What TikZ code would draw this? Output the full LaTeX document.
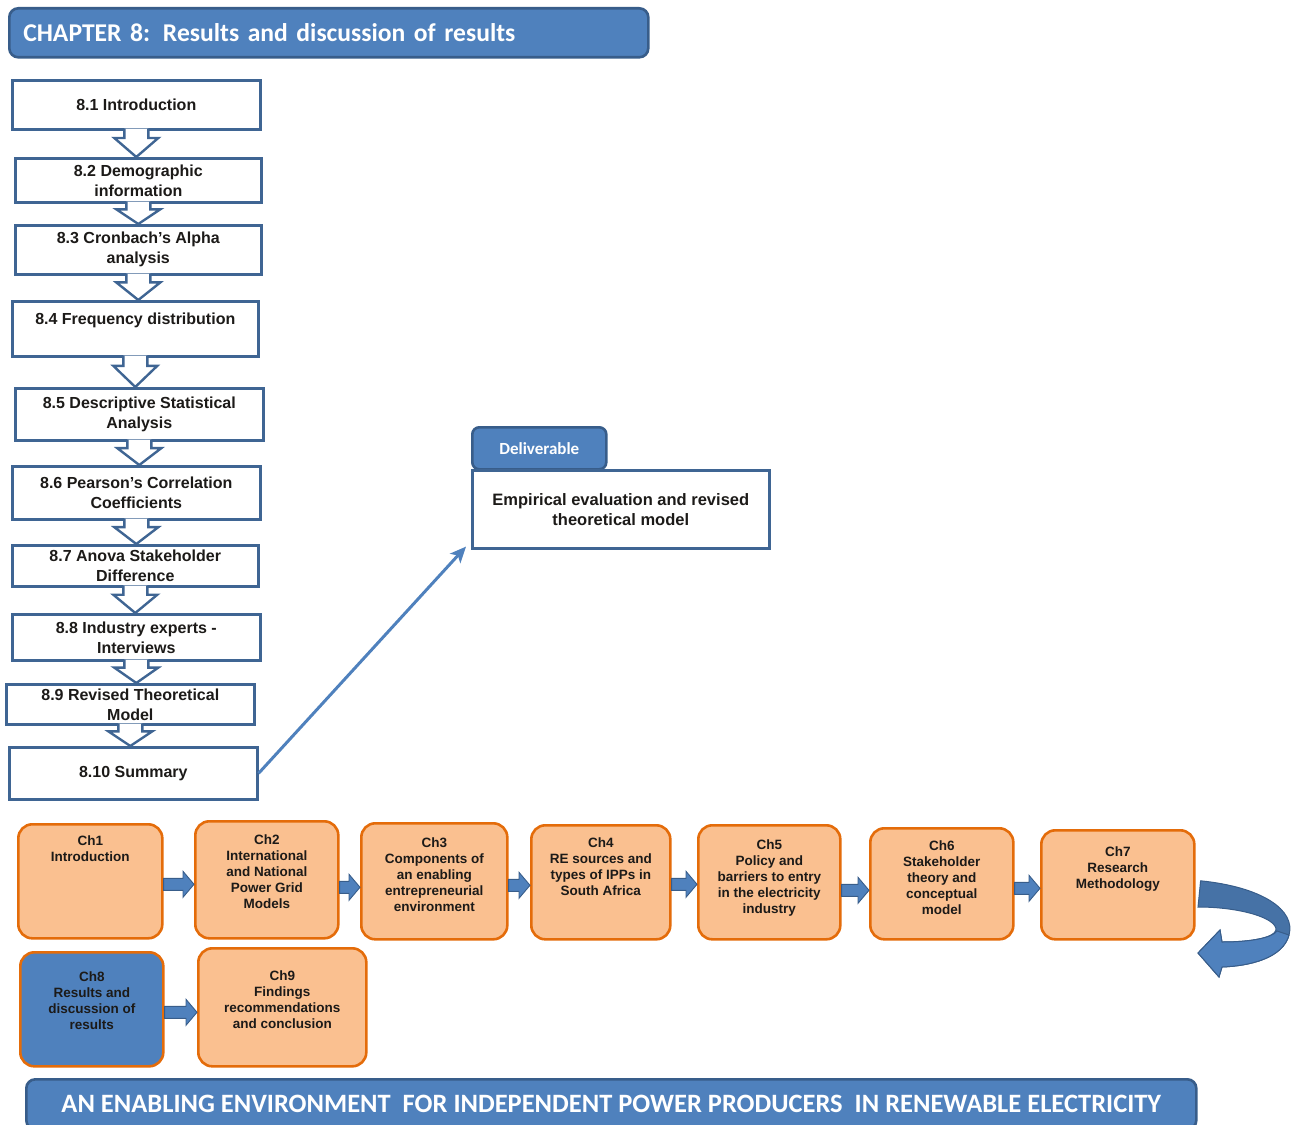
\documentclass[tikz,border=0pt]{standalone}
\usepackage{fontspec}
\setmainfont{Liberation Sans}
\newfontfamily\calfont{Carlito}
\usetikzlibrary{arrows.meta,calc}

\definecolor{blueF}{HTML}{4F81BD}
\definecolor{blueD}{HTML}{385D8A}
\definecolor{boxline}{HTML}{3F6593}
\definecolor{orangeF}{HTML}{FAC090}
\definecolor{orangeD}{HTML}{E46C0A}
\definecolor{inkc}{HTML}{1C1A18}

% top-aligned text block inside a chapter box: width, height, top gap, lines
\newcommand\chtxt[4]{\parbox[c][#2][t]{#1}{\centering\vspace*{#3}#4\par}}

% hollow downward block arrow between two section boxes
\newcommand\flowdown[2]{%
  \filldraw[hollowarr] let \p1=(#1.south), \p2=(#2.north), \n1={0.72*(\y1-\y2)} in
    (\x1+12pt,\y1+2pt) -- (\x1+12pt,\y2+\n1*1pt) -- (\x1+22pt,\y2+\n1*1pt)
    -- (\x1,\y2) -- (\x1-22pt,\y2+\n1*1pt) -- (\x1-12pt,\y2+\n1*1pt)
    -- (\x1-12pt,\y1+2pt);}

% filled right-pointing block arrow between two chapter boxes
\newcommand\flowright[3]{%
  \filldraw[blockarr] let \p1=($(#1.east)+(0,#3)$), \p2=(#2.west) in
    (\x1,\y1+6pt) -- (\x2-11pt,\y1+6pt) -- (\x2-11pt,\y1+13pt) -- (\x2,\y1)
    -- (\x2-11pt,\y1-13pt) -- (\x2-11pt,\y1-6pt) -- (\x1,\y1-6pt) -- cycle;}

\begin{document}
\begin{tikzpicture}[x=1pt,y=-1pt,
  secbox/.style={draw=boxline, line width=2.6pt, fill=white, anchor=north west,
    inner sep=0pt, align=center, text=inkc, font=\bfseries\fontsize{16}{20}\selectfont},
  chbox/.style={draw=orangeD, line width=2.6pt, fill=orangeF, rounded corners=14pt,
    anchor=north west, inner sep=0pt, text=inkc, font=\bfseries\fontsize{13.5}{16}\selectfont},
  bannerbox/.style={draw=blueD, line width=2.6pt, fill=blueF, rounded corners=9pt,
    anchor=north west, text=white},
  hollowarr/.style={draw=boxline, line width=2.4pt, fill=white, line join=miter},
  blockarr/.style={draw=blueD, line width=0.9pt, fill=blueF},
  linkarr/.style={draw=blueF, line width=3pt, -{Stealth[length=16pt,width=14pt,inset=4pt]}}
]
\useasboundingbox (0,0) rectangle (1295,1124);

% chapter heading
\node[bannerbox, minimum width=639pt, minimum height=49pt, inner xsep=14pt,
  text width=611pt, align=left, font=\calfont\bfseries\fontsize{25.6}{28}\selectfont]
  (title) at (8,7) {CHAPTER 8: Results and discussion of results};

% section boxes
\node[secbox, minimum width=248pt, minimum height=49pt] (s1) at (11,79) {8.1 Introduction};
\node[secbox, minimum width=246pt, minimum height=44pt] (s2) at (14,157) {8.2 Demographic\\information};
\node[secbox, minimum width=246pt, minimum height=49pt] (s3) at (14,224) {8.3 Cronbach’s Alpha\\analysis};
\node[secbox, minimum width=246pt, minimum height=55pt] (s4) at (11,300) {8.4 Frequency distribution\\\mbox{}};
\node[secbox, minimum width=248pt, minimum height=52pt] (s5) at (14,387) {8.5 Descriptive Statistical\\Analysis};
\node[secbox, minimum width=248pt, minimum height=53pt] (s6) at (11,465) {8.6 Pearson’s Correlation\\Coefficients};
\node[secbox, minimum width=246pt, minimum height=41pt] (s7) at (11,544) {8.7 Anova Stakeholder\\Difference};
\node[secbox, minimum width=248pt, minimum height=46pt] (s8) at (11,613) {8.8 Industry experts -\\Interviews};
\node[secbox, minimum width=248pt, minimum height=40pt] (s9) at (5,683) {8.9 Revised Theoretical\\Model};
\node[secbox, minimum width=248pt, minimum height=52pt] (s10) at (8,746) {8.10 Summary};

\flowdown{s1}{s2}
\flowdown{s2}{s3}
\flowdown{s3}{s4}
\flowdown{s4}{s5}
\flowdown{s5}{s6}
\flowdown{s6}{s7}
\flowdown{s7}{s8}
\flowdown{s8}{s9}
\flowdown{s9}{s10}

% deliverable
\node[bannerbox, minimum width=134pt, minimum height=42pt, rounded corners=7pt,
  font=\calfont\bfseries\fontsize{17}{20}\selectfont] (dtab) at (471,426) {Deliverable};
\node[secbox, minimum width=297pt, minimum height=78pt,
  font=\bfseries\fontsize{16.5}{20}\selectfont] (deliv) at (471,469)
  {Empirical evaluation and revised\\theoretical model};
\coordinate (dtip) at ($(deliv.south west)+(-5,-3)$);
\draw[linkarr] (s10.east) -- (dtip);

% thesis chapter sequence
\node[chbox] (c1) at (17,823) {\chtxt{144pt}{114pt}{11pt}{Ch1\\Introduction}};
\node[chbox] (c2) at (194,820) {\chtxt{143pt}{117pt}{13pt}{Ch2\\International\\and National\\Power Grid\\Models}};
\node[chbox] (c3) at (360,822) {\chtxt{146pt}{116pt}{14pt}{Ch3\\Components of\\an enabling\\entrepreneurial\\environment}};
\node[chbox] (c4) at (530,824) {\chtxt{139pt}{114pt}{12pt}{Ch4\\RE sources and\\types of IPPs in\\South Africa}};
\node[chbox] (c5) at (697,824) {\chtxt{142pt}{114pt}{14pt}{Ch5\\Policy and\\barriers to entry\\in the electricity\\industry}};
\node[chbox] (c6) at (869,827) {\chtxt{143pt}{111pt}{12pt}{Ch6\\Stakeholder\\theory and\\conceptual\\model}};
\node[chbox] (c7) at (1040,829) {\chtxt{153pt}{109pt}{16pt}{Ch7\\Research\\Methodology}};
\node[chbox, fill=blueF] (c8) at (19,951) {\chtxt{143pt}{114pt}{19pt}{Ch8\\Results and\\discussion of\\results}};
\node[chbox] (c9) at (197,947) {\chtxt{168pt}{118pt}{22pt}{Ch9\\Findings\\recommendations\\and conclusion}};

\flowright{c1}{c2}{3}
\flowright{c2}{c3}{7.5}
\flowright{c3}{c4}{4}
\flowright{c4}{c5}{2}
\flowright{c5}{c6}{8}
\flowright{c6}{c7}{4.5}
\flowright{c8}{c9}{3}

% U-turn arrow from the first row back to the second
\coordinate (uturn) at ($(c7.east)+(5,-4)$);
\filldraw[draw=blueD, line width=1pt, fill=blueF!88!black]
  (uturn) .. controls (1262,887) and (1296,910) .. (1289,935)
  .. controls (1283,958) and (1250,966) .. (1222,967)
  -- (1219,977) -- (1198,953) -- (1220,930) -- (1222,942)
  .. controls (1250,942) and (1274,938) .. (1276,930)
  .. controls (1277,918) and (1240,907) .. (1198,907) -- cycle;
\filldraw[draw=blueD, line width=1pt, fill=blueF]
  (1289,935) .. controls (1283,958) and (1250,966) .. (1222,967)
  -- (1219,977) -- (1198,953) -- (1220,930) -- (1222,942)
  .. controls (1250,942) and (1272,938) .. (1277,931) -- cycle;

% thesis title
\node[bannerbox, minimum width=1170pt, minimum height=50pt,
  font=\calfont\bfseries\fontsize{26.5}{30}\selectfont] (thesis) at (25,1078)
  {AN ENABLING ENVIRONMENT\ \ FOR INDEPENDENT POWER PRODUCERS\ \ IN RENEWABLE ELECTRICITY};
\end{tikzpicture}
\end{document}
